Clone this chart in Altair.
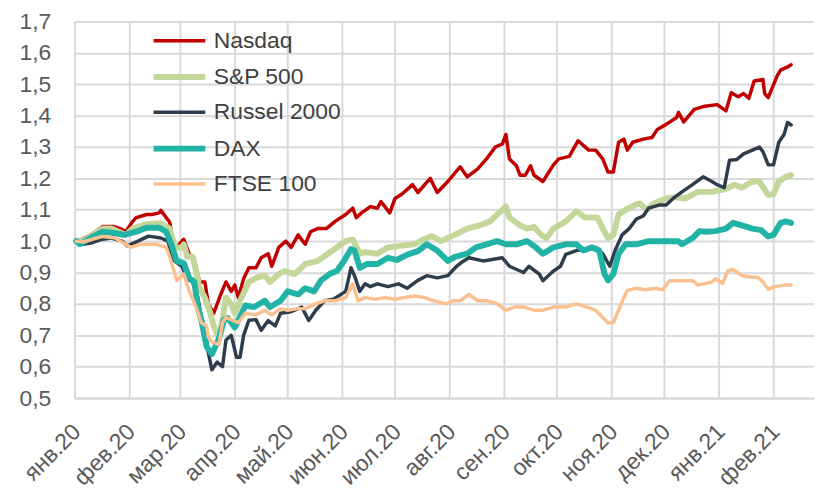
import altair as alt
import pandas as pd

series_names = ["Nasdaq", "S&P 500", "Russel 2000", "DAX", "FTSE 100"]
series_colors = ["#c00000", "#c4d79b", "#2e3d4c", "#22b3a7", "#fac08f"]
series_widths = [3.5, 6, 3.5, 6, 3.5]
month_labels = ["янв", "фев", "мар", "апр", "май", "июн",
                "июл", "авг", "сен", "окт", "ноя", "дек"]
tick_months = [(2020, m) for m in range(1, 13)] + [(2021, 1), (2021, 2)]
y_ticks = [0.5, 0.6, 0.7, 0.8, 0.9, 1.0, 1.1, 1.2, 1.3, 1.4, 1.5, 1.6, 1.7]

nasdaq_dates = [
    "2020-01-02", "2020-01-07", "2020-01-13", "2020-01-17", "2020-01-23", "2020-01-27", "2020-01-30",
    "2020-02-03", "2020-02-05", "2020-02-11", "2020-02-14", "2020-02-18", "2020-02-19", "2020-02-24",
    "2020-02-26", "2020-02-28", "2020-03-03", "2020-03-06", "2020-03-09", "2020-03-12", "2020-03-15",
    "2020-03-17", "2020-03-20", "2020-03-24", "2020-03-27", "2020-03-30", "2020-04-01", "2020-04-03",
    "2020-04-06", "2020-04-09", "2020-04-13", "2020-04-16", "2020-04-20", "2020-04-22", "2020-04-26",
    "2020-04-30", "2020-05-03", "2020-05-07", "2020-05-11", "2020-05-14", "2020-05-18", "2020-05-23",
    "2020-05-28", "2020-06-03", "2020-06-07", "2020-06-09", "2020-06-12", "2020-06-17", "2020-06-21",
    "2020-06-23", "2020-06-28", "2020-07-01", "2020-07-05", "2020-07-11", "2020-07-14", "2020-07-21",
    "2020-07-25", "2020-07-31", "2020-08-07", "2020-08-11", "2020-08-17", "2020-08-22", "2020-08-27",
    "2020-08-31", "2020-09-02", "2020-09-04", "2020-09-08", "2020-09-10", "2020-09-13", "2020-09-16",
    "2020-09-18", "2020-09-23", "2020-09-29", "2020-10-02", "2020-10-08", "2020-10-13", "2020-10-19",
    "2020-10-23", "2020-10-27", "2020-10-30", "2020-11-02", "2020-11-05", "2020-11-08", "2020-11-10",
    "2020-11-13", "2020-11-19", "2020-11-24", "2020-11-27", "2020-12-02", "2020-12-08", "2020-12-09",
    "2020-12-12", "2020-12-18", "2020-12-24", "2020-12-31", "2021-01-05", "2021-01-08", "2021-01-12",
    "2021-01-15", "2021-01-18", "2021-01-21", "2021-01-26", "2021-01-27", "2021-01-29", "2021-02-03",
    "2021-02-05", "2021-02-09", "2021-02-11"]
nasdaq_values = [
    1.000, 1.010, 1.030, 1.047, 1.047, 1.040, 1.030,
    1.063, 1.075, 1.085, 1.085, 1.090, 1.098, 1.060,
    1.000, 0.980, 1.006, 0.960, 0.940, 0.870, 0.870,
    0.800, 0.770, 0.830, 0.870, 0.840, 0.860, 0.820,
    0.880, 0.915, 0.915, 0.947, 0.960, 0.920, 0.980,
    1.000, 0.980, 1.020, 0.990, 1.030, 1.040, 1.040,
    1.063, 1.085, 1.105, 1.075, 1.090, 1.110, 1.105,
    1.126, 1.090, 1.136, 1.150, 1.180, 1.155, 1.200,
    1.155, 1.190, 1.237, 1.205, 1.230, 1.262, 1.300,
    1.310, 1.340, 1.262, 1.240, 1.210, 1.210, 1.240,
    1.210, 1.190, 1.243, 1.262, 1.270, 1.320, 1.290,
    1.290, 1.262, 1.220, 1.220, 1.315, 1.325, 1.290,
    1.315, 1.325, 1.330, 1.356, 1.372, 1.394, 1.410,
    1.380, 1.420, 1.430, 1.435, 1.415, 1.473, 1.460,
    1.470, 1.455, 1.510, 1.515, 1.470, 1.457, 1.526,
    1.545, 1.555, 1.562]

sp_dates = [
    "2020-01-02", "2020-01-07", "2020-01-17", "2020-01-22", "2020-01-30", "2020-02-03", "2020-02-10",
    "2020-02-19", "2020-02-24", "2020-02-27", "2020-03-02", "2020-03-03", "2020-03-05", "2020-03-08",
    "2020-03-10", "2020-03-12", "2020-03-15", "2020-03-18", "2020-03-20", "2020-03-23", "2020-03-25",
    "2020-03-27", "2020-03-30", "2020-04-01", "2020-04-04", "2020-04-09", "2020-04-14", "2020-04-18",
    "2020-04-21", "2020-04-26", "2020-04-29", "2020-05-05", "2020-05-11", "2020-05-18", "2020-05-24",
    "2020-05-29", "2020-06-03", "2020-06-07", "2020-06-11", "2020-06-14", "2020-06-21", "2020-06-27",
    "2020-07-04", "2020-07-12", "2020-07-17", "2020-07-22", "2020-07-27", "2020-08-04", "2020-08-11",
    "2020-08-18", "2020-08-24", "2020-08-29", "2020-09-02", "2020-09-04", "2020-09-10", "2020-09-14",
    "2020-09-18", "2020-09-22", "2020-09-25", "2020-09-29", "2020-10-06", "2020-10-12", "2020-10-17",
    "2020-10-24", "2020-10-27", "2020-10-30", "2020-11-02", "2020-11-05", "2020-11-09", "2020-11-15",
    "2020-11-17", "2020-11-21", "2020-11-25", "2020-12-02", "2020-12-08", "2020-12-13", "2020-12-20",
    "2020-12-28", "2021-01-05", "2021-01-10", "2021-01-14", "2021-01-20", "2021-01-24", "2021-01-29",
    "2021-02-01", "2021-02-04", "2021-02-08", "2021-02-11"]
sp_values = [
    1.000, 1.005, 1.040, 1.040, 1.020, 1.040, 1.053,
    1.057, 1.040, 0.980, 0.980, 0.990, 0.950, 0.950,
    0.905, 0.850, 0.820, 0.773, 0.730, 0.690, 0.750,
    0.820, 0.800, 0.770, 0.810, 0.870, 0.885, 0.890,
    0.870, 0.895, 0.905, 0.895, 0.927, 0.937, 0.960,
    0.980, 1.000, 1.005, 0.960, 0.965, 0.960, 0.980,
    0.985, 0.990, 1.005, 1.016, 1.000, 1.020, 1.040,
    1.050, 1.063, 1.090, 1.110, 1.075, 1.050, 1.040,
    1.045, 1.020, 1.010, 1.040, 1.063, 1.095, 1.075,
    1.075, 1.040, 1.010, 1.020, 1.085, 1.100, 1.117,
    1.120, 1.100, 1.120, 1.136, 1.140, 1.136, 1.157,
    1.157, 1.167, 1.180, 1.170, 1.190, 1.190, 1.147,
    1.150, 1.190, 1.205, 1.210]

russel_dates = [
    "2020-01-02", "2020-01-06", "2020-01-11", "2020-01-16", "2020-01-22", "2020-01-28", "2020-01-31",
    "2020-02-06", "2020-02-12", "2020-02-19", "2020-02-23", "2020-02-26", "2020-03-02", "2020-03-05",
    "2020-03-08", "2020-03-11", "2020-03-13", "2020-03-15", "2020-03-17", "2020-03-19", "2020-03-22",
    "2020-03-25", "2020-03-27", "2020-03-30", "2020-04-02", "2020-04-04", "2020-04-06", "2020-04-09",
    "2020-04-13", "2020-04-16", "2020-04-20", "2020-04-24", "2020-04-27", "2020-05-03", "2020-05-09",
    "2020-05-13", "2020-05-17", "2020-05-22", "2020-05-27", "2020-06-03", "2020-06-06", "2020-06-08",
    "2020-06-11", "2020-06-14", "2020-06-17", "2020-06-21", "2020-06-27", "2020-07-03", "2020-07-08",
    "2020-07-14", "2020-07-19", "2020-07-25", "2020-07-31", "2020-08-05", "2020-08-09", "2020-08-12",
    "2020-08-20", "2020-08-31", "2020-09-04", "2020-09-12", "2020-09-15", "2020-09-21", "2020-09-23",
    "2020-09-29", "2020-10-03", "2020-10-06", "2020-10-12", "2020-10-23", "2020-10-27", "2020-10-31",
    "2020-11-03", "2020-11-07", "2020-11-11", "2020-11-15", "2020-11-19", "2020-11-22", "2020-11-28",
    "2020-12-02", "2020-12-06", "2020-12-11", "2020-12-17", "2020-12-23", "2020-12-28", "2020-12-31",
    "2021-01-04", "2021-01-07", "2021-01-11", "2021-01-15", "2021-01-20", "2021-01-24", "2021-01-26",
    "2021-01-29", "2021-02-01", "2021-02-04", "2021-02-07", "2021-02-09", "2021-02-11"]
russel_values = [
    1.000, 0.990, 0.995, 1.005, 1.010, 1.000, 0.985,
    1.000, 1.016, 1.010, 1.000, 0.940, 0.920, 0.880,
    0.870, 0.820, 0.757, 0.725, 0.643, 0.590, 0.615,
    0.600, 0.685, 0.700, 0.630, 0.630, 0.700, 0.748,
    0.750, 0.716, 0.747, 0.730, 0.770, 0.775, 0.790,
    0.747, 0.780, 0.810, 0.815, 0.840, 0.915, 0.890,
    0.840, 0.864, 0.855, 0.864, 0.855, 0.864, 0.850,
    0.875, 0.890, 0.883, 0.890, 0.920, 0.937, 0.947,
    0.937, 0.947, 0.920, 0.900, 0.920, 0.895, 0.874,
    0.905, 0.920, 0.958, 0.970, 0.980, 0.960, 0.920,
    0.970, 1.020, 1.040, 1.070, 1.080, 1.105, 1.115,
    1.115, 1.136, 1.157, 1.180, 1.205, 1.190, 1.180,
    1.170, 1.258, 1.260, 1.278, 1.290, 1.300, 1.285,
    1.243, 1.243, 1.315, 1.340, 1.378, 1.370]

dax_dates = [
    "2020-01-02", "2020-01-04", "2020-01-10", "2020-01-17", "2020-01-24", "2020-01-29", "2020-02-05",
    "2020-02-11", "2020-02-18", "2020-02-22", "2020-02-25", "2020-02-28", "2020-03-03", "2020-03-06",
    "2020-03-09", "2020-03-11", "2020-03-13", "2020-03-16", "2020-03-19", "2020-03-23", "2020-03-26",
    "2020-03-28", "2020-04-01", "2020-04-04", "2020-04-07", "2020-04-12", "2020-04-18", "2020-04-21",
    "2020-04-27", "2020-05-01", "2020-05-07", "2020-05-11", "2020-05-16", "2020-05-20", "2020-05-25",
    "2020-05-29", "2020-06-02", "2020-06-06", "2020-06-08", "2020-06-11", "2020-06-15", "2020-06-21",
    "2020-06-27", "2020-07-02", "2020-07-08", "2020-07-14", "2020-07-19", "2020-07-25", "2020-07-31",
    "2020-08-04", "2020-08-11", "2020-08-16", "2020-08-22", "2020-08-28", "2020-09-02", "2020-09-08",
    "2020-09-14", "2020-09-19", "2020-09-23", "2020-09-29", "2020-10-06", "2020-10-12", "2020-10-16",
    "2020-10-21", "2020-10-25", "2020-10-28", "2020-10-30", "2020-11-02", "2020-11-05", "2020-11-09",
    "2020-11-15", "2020-11-22", "2020-12-02", "2020-12-09", "2020-12-11", "2020-12-17", "2020-12-21",
    "2020-12-25", "2020-12-30", "2021-01-05", "2021-01-09", "2021-01-14", "2021-01-20", "2021-01-25",
    "2021-01-29", "2021-02-01", "2021-02-05", "2021-02-08", "2021-02-11"]
dax_values = [
    1.000, 0.990, 1.010, 1.030, 1.025, 1.020, 1.030,
    1.043, 1.043, 1.030, 0.990, 0.937, 0.930, 0.883,
    0.870, 0.790, 0.748, 0.664, 0.640, 0.690, 0.750,
    0.755, 0.725, 0.760, 0.795, 0.790, 0.810, 0.790,
    0.810, 0.840, 0.830, 0.850, 0.840, 0.875, 0.896,
    0.905, 0.937, 0.975, 0.970, 0.915, 0.927, 0.927,
    0.947, 0.940, 0.957, 0.968, 0.990, 0.970, 0.937,
    0.950, 0.960, 0.980, 0.990, 1.000, 0.990, 0.990,
    1.000, 0.980, 0.960, 0.980, 0.990, 0.990, 0.970,
    0.980, 0.970, 0.895, 0.875, 0.895, 0.960, 0.990,
    0.990, 1.000, 1.000, 1.000, 0.990, 1.010, 1.032,
    1.030, 1.032, 1.040, 1.058, 1.050, 1.040, 1.035,
    1.015, 1.020, 1.058, 1.063, 1.058]

ftse_dates = [
    "2020-01-02", "2020-01-06", "2020-01-17", "2020-01-24", "2020-01-30", "2020-02-02", "2020-02-07",
    "2020-02-16", "2020-02-22", "2020-02-24", "2020-02-27", "2020-02-28", "2020-03-03", "2020-03-06",
    "2020-03-10", "2020-03-13", "2020-03-16", "2020-03-17", "2020-03-19", "2020-03-23", "2020-03-25",
    "2020-03-27", "2020-03-30", "2020-04-03", "2020-04-07", "2020-04-13", "2020-04-18", "2020-04-22",
    "2020-04-27", "2020-05-01", "2020-05-07", "2020-05-11", "2020-05-17", "2020-05-22", "2020-05-28",
    "2020-06-03", "2020-06-07", "2020-06-10", "2020-06-14", "2020-06-20", "2020-06-25", "2020-07-01",
    "2020-07-06", "2020-07-12", "2020-07-18", "2020-07-23", "2020-07-30", "2020-08-03", "2020-08-07",
    "2020-08-12", "2020-08-17", "2020-08-22", "2020-08-28", "2020-09-02", "2020-09-07", "2020-09-12",
    "2020-09-18", "2020-09-23", "2020-09-29", "2020-10-06", "2020-10-12", "2020-10-18", "2020-10-23",
    "2020-10-27", "2020-10-30", "2020-11-02", "2020-11-05", "2020-11-08", "2020-11-10", "2020-11-15",
    "2020-11-20", "2020-11-26", "2020-11-30", "2020-12-04", "2020-12-11", "2020-12-17", "2020-12-20",
    "2020-12-28", "2020-12-30", "2021-01-03", "2021-01-06", "2021-01-09", "2021-01-14", "2021-01-20",
    "2021-01-23", "2021-01-26", "2021-01-29", "2021-02-02", "2021-02-07", "2021-02-11"]
ftse_values = [
    1.000, 0.998, 1.015, 1.010, 0.990, 0.980, 0.990,
    0.990, 0.980, 0.950, 0.895, 0.875, 0.895, 0.843,
    0.790, 0.740, 0.730, 0.694, 0.680, 0.670, 0.740,
    0.757, 0.750, 0.740, 0.770, 0.765, 0.780, 0.765,
    0.785, 0.780, 0.785, 0.785, 0.800, 0.810, 0.810,
    0.820, 0.864, 0.810, 0.820, 0.815, 0.820, 0.815,
    0.820, 0.825, 0.820, 0.810, 0.800, 0.810, 0.810,
    0.830, 0.810, 0.810, 0.800, 0.780, 0.790, 0.790,
    0.780, 0.780, 0.790, 0.790, 0.800, 0.790, 0.780,
    0.757, 0.740, 0.740, 0.780, 0.820, 0.843, 0.850,
    0.845, 0.850, 0.845, 0.874, 0.874, 0.874, 0.860,
    0.870, 0.880, 0.865, 0.905, 0.910, 0.890, 0.885,
    0.885, 0.870, 0.847, 0.855, 0.860, 0.860]

all_dates = [nasdaq_dates, sp_dates, russel_dates, dax_dates, ftse_dates]
all_values = [nasdaq_values, sp_values, russel_values, dax_values, ftse_values]

rows = []
for name, ds, vs in zip(series_names, all_dates, all_values):
    for d, v in zip(ds, vs):
        rows.append({"date": d, "value": v, "series": name})
df = pd.DataFrame(rows)

FONT = "Liberation Sans"
GRID = "#d9d9d9"
FS = 23

month_arr = "[" + ",".join("'%s'" % m for m in month_labels) + "]"
x_label_expr = month_arr + "[utcmonth(datum.value)] + '.' + utcFormat(datum.value, '%y')"

x_axis = alt.Axis(
    values=[alt.DateTime(year=y, month=m, date=1, utc=True) for y, m in tick_months],
    labelExpr=x_label_expr, labelAngle=-45, labelAlign="right", labelBaseline="middle",
    labelFont=FONT, labelFontSize=FS, labelColor="#595959", labelPadding=30, labelOffset=2,
    labelOverlap=False, labelBound=False, labelFlush=False,
    grid=True, gridColor=GRID, gridWidth=2, ticks=False,
    domain=True, domainColor=GRID, domainWidth=2, title=None,
)
y_axis = alt.Axis(
    values=y_ticks, labelExpr="replace(format(datum.value, '.1f'), '.', ',')",
    labelFont=FONT, labelFontSize=FS, labelColor="#595959", labelPadding=24,
    grid=True, gridColor=GRID, gridWidth=2, ticks=False, domain=False, title=None,
)

thick_names = [n for n, w in zip(series_names, series_widths) if w > 5]
width_expr = ("indexof([" + ",".join("'%s'" % n for n in thick_names) +
              "], datum.value) >= 0 ? 6 : 3.5")

legend = alt.Legend(
    title=None, orient="none", legendX=94, legendY=8, padding=0,
    symbolType="M-2.6,0H2.6", symbolSize=400,
    symbolStrokeWidth=alt.ExprRef(expr=width_expr),
    labelFont=FONT, labelFontSize=FS, labelColor="#404040",
    labelOffset=23, rowPadding=11.5,
)

x_enc = alt.X("date:T", scale=alt.Scale(type="utc", domain=[
    alt.DateTime(year=2020, month=1, date=1, utc=True),
    alt.DateTime(year=2021, month=2, date=24, utc=True)]), axis=x_axis)
y_enc = alt.Y("value:Q", scale=alt.Scale(domain=[0.5, 1.7], nice=False, zero=False), axis=y_axis)
color_enc = alt.Color("series:N", scale=alt.Scale(domain=series_names, range=series_colors),
                      legend=legend)

layers = []
for name, w in zip(series_names, series_widths):
    layers.append(
        alt.Chart(df).transform_filter(alt.datum.series == name)
        .mark_line(strokeWidth=w, strokeJoin="round", strokeCap="round")
        .encode(x=x_enc, y=y_enc, color=color_enc)
    )

chart = alt.layer(*layers).properties(
    width=744, height=379,
    autosize=alt.AutoSizeParams(type="none"),
    padding={"left": 67, "top": 12, "right": 0, "bottom": 95},
).configure_view(strokeWidth=0).configure(background="white")

chart.save("out.html", embed_options={"renderer": "svg", "actions": False})
